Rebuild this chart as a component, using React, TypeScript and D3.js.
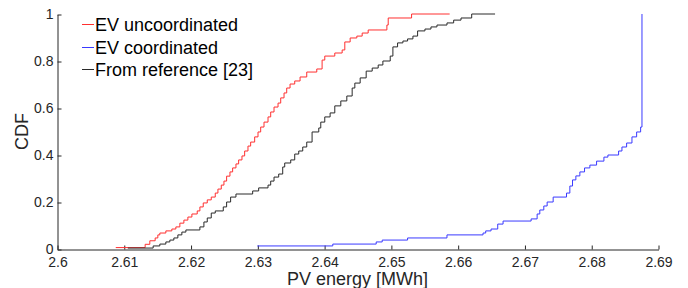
import { useEffect, useRef } from 'react';
import * as d3 from 'd3';

const WIDTH = 688;
const HEIGHT = 288;

const xTicks = [2.6, 2.61, 2.62, 2.63, 2.64, 2.65, 2.66, 2.67, 2.68, 2.69];
const yTicks = [0, 0.2, 0.4, 0.6, 0.8, 1];

// EV uncoordinated (red)
const redX = [
  2.6088, 2.6132, 2.6139, 2.6147, 2.6151, 2.6154, 2.6163, 2.6172, 2.6178, 2.6184,
  2.619, 2.6196, 2.6202, 2.621, 2.6214, 2.6219, 2.6225, 2.6231, 2.6237, 2.6241,
  2.6246, 2.625, 2.6254, 2.6259, 2.6263, 2.6268, 2.6272, 2.6277, 2.6281, 2.6286,
  2.629, 2.6296, 2.6301, 2.6305, 2.631, 2.6316, 2.632, 2.6325, 2.6331, 2.6335,
  2.634, 2.6344, 2.6349, 2.6356, 2.6364, 2.6374, 2.6389, 2.6397, 2.6401, 2.6416,
  2.6427, 2.6431, 2.6439, 2.6449, 2.6457, 2.6466, 2.6494, 2.6496, 2.6531, 2.6588
];
const redY = [
  0.006, 0.02, 0.035, 0.047, 0.06, 0.068, 0.077, 0.085, 0.094, 0.11,
  0.123, 0.136, 0.149, 0.162, 0.179, 0.196, 0.209, 0.221, 0.238, 0.255,
  0.272, 0.289, 0.31, 0.328, 0.345, 0.362, 0.379, 0.396, 0.417, 0.438,
  0.455, 0.477, 0.498, 0.519, 0.54, 0.562, 0.583, 0.604, 0.621, 0.643,
  0.664, 0.685, 0.702, 0.715, 0.732, 0.753, 0.766, 0.804, 0.821, 0.834,
  0.847, 0.881, 0.898, 0.906, 0.919, 0.932, 0.953, 0.983, 1, 1
];

// EV coordinated (blue)
const blueX = [
  2.63, 2.6413, 2.6478, 2.6487, 2.6525, 2.6584, 2.6638, 2.6642, 2.665, 2.666,
  2.6668, 2.671, 2.6719, 2.6723, 2.6729, 2.6734, 2.6743, 2.6763, 2.6768, 2.6772,
  2.6777, 2.6783, 2.679, 2.6798, 2.6808, 2.6819, 2.6825, 2.6841, 2.6846, 2.6853,
  2.6861, 2.6868, 2.6874, 2.6876
];
const blueY = [
  0.013, 0.021, 0.03, 0.038, 0.047, 0.06, 0.068, 0.077, 0.085, 0.106,
  0.119, 0.128, 0.149, 0.166, 0.183, 0.2, 0.221, 0.238, 0.268, 0.294,
  0.311, 0.328, 0.345, 0.357, 0.374, 0.391, 0.4, 0.417, 0.434, 0.451,
  0.477, 0.498, 0.519, 1
];

// From reference [23] (black)
const blackX = [
  2.6106, 2.6144, 2.6154, 2.6163, 2.6169, 2.6175, 2.6181, 2.6187, 2.6193, 2.6214,
  2.622, 2.6225, 2.6231, 2.6237, 2.6249, 2.6254, 2.626, 2.6268, 2.6293, 2.6302,
  2.6316, 2.632, 2.6325, 2.6332, 2.6338, 2.6341, 2.635, 2.6356, 2.6362, 2.6368,
  2.6374, 2.6382, 2.6392, 2.6395, 2.6401, 2.6409, 2.6416, 2.6425, 2.6434, 2.6442,
  2.6446, 2.6454, 2.6463, 2.6472, 2.6481, 2.6488, 2.6499, 2.6503, 2.651, 2.6518,
  2.6525, 2.6533, 2.654, 2.6551, 2.656, 2.6569, 2.6584, 2.6594, 2.6605, 2.6621,
  2.6656
];
const blackY = [
  0.004, 0.013, 0.021, 0.03, 0.038, 0.047, 0.06, 0.072, 0.081, 0.094,
  0.115, 0.132, 0.153, 0.162, 0.179, 0.2, 0.221, 0.234, 0.247, 0.26,
  0.272, 0.289, 0.306, 0.319, 0.349, 0.366, 0.379, 0.404, 0.417, 0.434,
  0.455, 0.498, 0.515, 0.54, 0.562, 0.579, 0.609, 0.63, 0.651, 0.685,
  0.706, 0.728, 0.757, 0.77, 0.783, 0.8, 0.821, 0.86, 0.877, 0.885,
  0.894, 0.906, 0.928, 0.936, 0.945, 0.953, 0.962, 0.974, 0.983, 1,
  1
];

const seriesNames = ['EV uncoordinated', 'EV coordinated', 'From reference [23]'];
const seriesColors = ['#ff3030', '#3a3aff', '#2a2a2a'];

const FONT = '"Liberation Sans", Arial, Helvetica, sans-serif';
const AXIS_COLOR = '#262626';

export default function App() {
  const svgRef = useRef<SVGSVGElement>(null);

  useEffect(() => {
    if (!svgRef.current) return;
    const svg = d3.select(svgRef.current);
    svg.selectAll('*').remove();

    const left = 57, right = 658, top = 14, bottom = 249;

    const x = d3.scaleLinear().domain([2.6, 2.69]).range([left, right]);
    const y = d3.scaleLinear().domain([0, 1]).range([bottom, top]);

    const zip = (xs: number[], ys: number[]) => xs.map((v, i) => [v, ys[i]] as [number, number]);
    const series = [zip(redX, redY), zip(blueX, blueY), zip(blackX, blackY)];

    const line = d3.line<[number, number]>()
      .x(d => x(d[0]))
      .y(d => y(d[1]))
      .curve(d3.curveStepAfter);

    // axes
    const xAxis = svg.append('g')
      .attr('transform', `translate(0.5, ${bottom + 0.5})`)
      .call(
        d3.axisBottom(x)
          .tickValues(xTicks)
          .tickFormat(d => String(d))
          .tickSizeInner(-4)
          .tickSizeOuter(0)
          .tickPadding(8)
      );

    const yAxis = svg.append('g')
      .attr('transform', `translate(${left + 0.5}, 0.5)`)
      .call(
        d3.axisLeft(y)
          .tickValues(yTicks)
          .tickFormat(d => String(d))
          .tickSizeInner(-4)
          .tickSizeOuter(0)
          .tickPadding(4)
      );

    [xAxis, yAxis].forEach(a => {
      a.select('.domain').attr('stroke', AXIS_COLOR);
      a.selectAll('.tick line').attr('stroke', AXIS_COLOR);
      a.selectAll('.tick text')
        .attr('fill', AXIS_COLOR)
        .style('font-family', FONT)
        .style('font-size', '14px');
    });

    // curves
    series.forEach((pts, i) => {
      svg.append('path')
        .attr('d', line(pts))
        .attr('fill', 'none')
        .attr('stroke', seriesColors[i])
        .attr('stroke-width', 1);
    });

    // axis labels
    svg.append('text')
      .attr('x', (left + right) / 2)
      .attr('y', 285)
      .attr('text-anchor', 'middle')
      .attr('fill', AXIS_COLOR)
      .style('font-family', FONT)
      .style('font-size', '18px')
      .text('PV energy [MWh]');

    svg.append('text')
      .attr('transform', `translate(28, ${(top + bottom) / 2}) rotate(-90)`)
      .attr('text-anchor', 'middle')
      .attr('fill', AXIS_COLOR)
      .style('font-family', FONT)
      .style('font-size', '18px')
      .text('CDF');

    // legend
    const legend = svg.append('g');
    seriesNames.forEach((name, i) => {
      const cy = 24 + i * 22.5;
      legend.append('line')
        .attr('x1', 82).attr('x2', 94)
        .attr('y1', Math.round(cy) + 0.5).attr('y2', Math.round(cy) + 0.5)
        .attr('stroke', seriesColors[i])
        .attr('stroke-width', 1);
      legend.append('text')
        .attr('x', 95)
        .attr('y', cy + 7)
        .attr('fill', '#000')
        .style('font-family', FONT)
        .style('font-size', '18px')
        .text(name);
    });
  }, []);

  return (
    <svg
      ref={svgRef}
      width={WIDTH}
      height={HEIGHT}
      style={{ position: 'absolute', left: 0, top: 0, background: '#fff' }}
    />
  );
}
